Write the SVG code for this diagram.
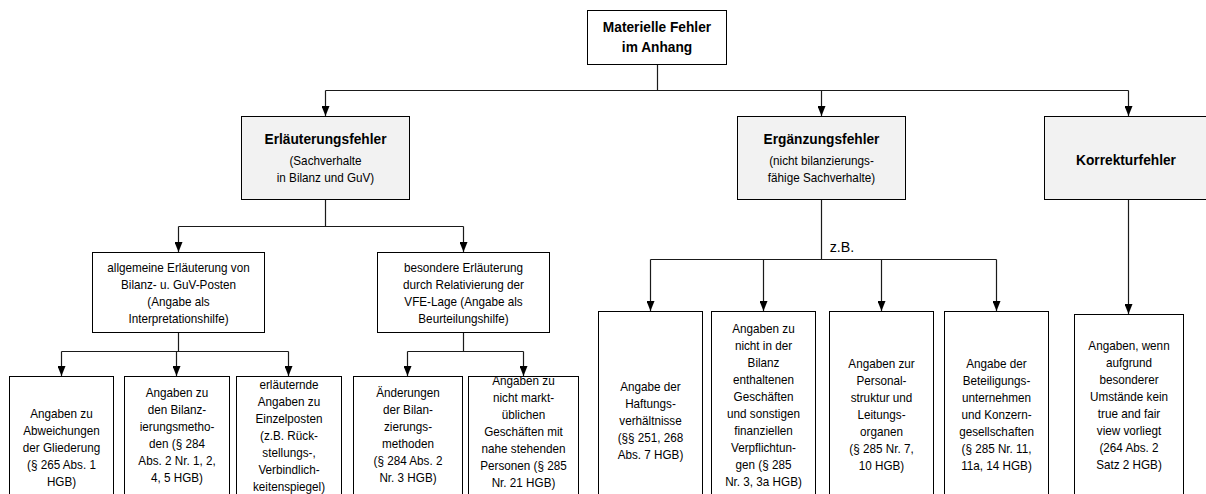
<svg xmlns="http://www.w3.org/2000/svg" width="1206" height="494" viewBox="0 0 1206 494">
  <style>
    .box { fill: #ffffff; stroke: #000000; stroke-width: 1; }
    .head { fill: #f2f2f2; stroke: #000000; stroke-width: 1; }
    .conn { fill: none; stroke: #1a1a1a; stroke-width: 1.2; }
    .arr { marker-end: url(#ah); }
    text { font-family: "Liberation Sans", Arial, sans-serif; fill: #000000; text-anchor: middle; }
    .b { font-size: 14px; font-weight: bold; }
    .r { font-size: 13px; }
    .s { font-size: 15px; }
  </style>
  <defs>
    <marker id="ah" markerWidth="10" markerHeight="8" refX="10" refY="4" orient="auto" markerUnits="userSpaceOnUse">
      <path d="M0,0 L10,4 L0,8 z" fill="#000000"/>
    </marker>
  </defs>

  <!-- connectors -->
  <g id="connectors">
    <path class="conn" d="M657.5,64.5 V90.5 M325.5,90.5 H1128.5"/>
    <path class="conn arr" d="M325.5,90.5 V116"/>
    <path class="conn arr" d="M821.5,90.5 V116"/>
    <path class="conn arr" d="M1128.5,90.5 V116"/>

    <path class="conn" d="M325.5,200 V226.5 M178.5,226.5 H463.5"/>
    <path class="conn arr" d="M178.5,226.5 V252"/>
    <path class="conn arr" d="M463.5,226.5 V252"/>

    <path class="conn" d="M178.5,332 V351.5 M61.5,351.5 H288.5"/>
    <path class="conn arr" d="M61.5,351.5 V376"/>
    <path class="conn arr" d="M176.5,351.5 V376"/>
    <path class="conn arr" d="M288.5,351.5 V376"/>

    <path class="conn" d="M463.5,332 V351.5 M407.5,351.5 H523.5"/>
    <path class="conn arr" d="M407.5,351.5 V376"/>
    <path class="conn arr" d="M523.5,351.5 V376"/>

    <path class="conn" d="M821.5,200 V259.5 M650.5,259.5 H996.5"/>
    <path class="conn arr" d="M650.5,259.5 V311"/>
    <path class="conn arr" d="M763.5,259.5 V311"/>
    <path class="conn arr" d="M881.5,259.5 V311"/>
    <path class="conn arr" d="M996.5,259.5 V311"/>
    <text class="s" transform="translate(842 0) scale(0.95 1)"><tspan x="0" y="252">z.B.</tspan></text>

    <path class="conn arr" d="M1128.5,200 V314"/>
  </g>

  <!-- root -->
  <g id="n-root">
    <rect class="box" x="587.5" y="10.5" width="139" height="54"/>
    <text class="b" transform="translate(657 0) scale(0.98 1)"><tspan x="0" y="32">Materielle Fehler</tspan><tspan x="0" y="52">im Anhang</tspan></text>
  </g>

  <!-- second level -->
  <g id="n-erlaeuterung">
    <rect class="head" x="241.5" y="116.5" width="168" height="83"/>
    <text class="b" transform="translate(325.5 0) scale(0.98 1)"><tspan x="0" y="144">Erläuterungsfehler</tspan></text>
    <text class="r" transform="translate(325.5 0) scale(0.9 1)"><tspan x="0" y="165">(Sachverhalte</tspan><tspan x="0" y="182">in Bilanz und GuV)</tspan></text>
  </g>
  <g id="n-ergaenzung">
    <rect class="head" x="737.5" y="116.5" width="168" height="83"/>
    <text class="b" transform="translate(821.5 0) scale(0.98 1)"><tspan x="0" y="144">Ergänzungsfehler</tspan></text>
    <text class="r" transform="translate(821.5 0) scale(0.9 1)"><tspan x="0" y="165">(nicht bilanzierungs-</tspan><tspan x="0" y="182">fähige Sachverhalte)</tspan></text>
  </g>
  <g id="n-korrektur">
    <rect class="head" x="1044.5" y="116.5" width="170" height="83"/>
    <text class="b" transform="translate(1126 0) scale(0.98 1)"><tspan x="0" y="165">Korrekturfehler</tspan></text>
  </g>

  <!-- third level -->
  <g id="n-allgemein">
    <rect class="box" x="92.5" y="252.5" width="172" height="80"/>
    <text class="r" transform="translate(178.5 0) scale(0.9 1)"><tspan x="0" y="272">allgemeine Erläuterung von</tspan><tspan x="0" y="289">Bilanz- u. GuV-Posten</tspan><tspan x="0" y="306">(Angabe als</tspan><tspan x="0" y="323">Interpretationshilfe)</tspan></text>
  </g>
  <g id="n-besonders">
    <rect class="box" x="377.5" y="252.5" width="172" height="80"/>
    <text class="r" transform="translate(463.5 0) scale(0.9 1)"><tspan x="0" y="272">besondere Erläuterung</tspan><tspan x="0" y="289">durch Relativierung der</tspan><tspan x="0" y="306">VFE-Lage (Angabe als</tspan><tspan x="0" y="323">Beurteilungshilfe)</tspan></text>
  </g>

  <!-- leaves under general explanation -->
  <g id="n-gliederung">
    <rect class="box" x="9.5" y="376.5" width="104" height="130"/>
    <text class="r" transform="translate(61.5 0) scale(0.9 1)"><tspan x="0" y="418">Angaben zu</tspan><tspan x="0" y="435">Abweichungen</tspan><tspan x="0" y="452">der Gliederung</tspan><tspan x="0" y="469">(§ 265 Abs. 1</tspan><tspan x="0" y="486">HGB)</tspan></text>
  </g>
  <g id="n-methoden">
    <rect class="box" x="124.5" y="376.5" width="105" height="130"/>
    <text class="r" transform="translate(177 0) scale(0.9 1)"><tspan x="0" y="397">Angaben zu</tspan><tspan x="0" y="414">den Bilanz-</tspan><tspan x="0" y="431">ierungsmetho-</tspan><tspan x="0" y="448">den (§ 284</tspan><tspan x="0" y="465">Abs. 2 Nr. 1, 2,</tspan><tspan x="0" y="482">4, 5 HGB)</tspan></text>
  </g>
  <g id="n-einzelposten">
    <rect class="box" x="236.5" y="376.5" width="105" height="130"/>
    <text class="r" transform="translate(289 0) scale(0.9 1)"><tspan x="0" y="389">erläuternde</tspan><tspan x="0" y="406">Angaben zu</tspan><tspan x="0" y="423">Einzelposten</tspan><tspan x="0" y="440">(z.B. Rück-</tspan><tspan x="0" y="457">stellungs-,</tspan><tspan x="0" y="474">Verbindlich-</tspan><tspan x="0" y="491">keitenspiegel)</tspan></text>
  </g>

  <!-- leaves under special explanation -->
  <g id="n-aenderungen">
    <rect class="box" x="353.5" y="376.5" width="109" height="130"/>
    <text class="r" transform="translate(408 0) scale(0.9 1)"><tspan x="0" y="397">Änderungen</tspan><tspan x="0" y="414">der Bilan-</tspan><tspan x="0" y="431">zierungs-</tspan><tspan x="0" y="448">methoden</tspan><tspan x="0" y="465">(§ 284 Abs. 2</tspan><tspan x="0" y="482">Nr. 3 HGB)</tspan></text>
  </g>
  <g id="n-nahestehende">
    <rect class="box" x="468.5" y="376.5" width="110" height="130"/>
    <text class="r" transform="translate(523.5 0) scale(0.9 1)"><tspan x="0" y="385">Angaben zu</tspan><tspan x="0" y="402">nicht markt-</tspan><tspan x="0" y="419">üblichen</tspan><tspan x="0" y="436">Geschäften mit</tspan><tspan x="0" y="453">nahe stehenden</tspan><tspan x="0" y="470">Personen (§ 285</tspan><tspan x="0" y="487">Nr. 21 HGB)</tspan></text>
  </g>

  <!-- leaves under supplementary errors -->
  <g id="n-haftung">
    <rect class="box" x="598.5" y="311.5" width="104" height="200"/>
    <text class="r" transform="translate(650.5 0) scale(0.9 1)"><tspan x="0" y="391">Angabe der</tspan><tspan x="0" y="408">Haftungs-</tspan><tspan x="0" y="425">verhältnisse</tspan><tspan x="0" y="442">(§§ 251, 268</tspan><tspan x="0" y="459">Abs. 7 HGB)</tspan></text>
  </g>
  <g id="n-geschaefte">
    <rect class="box" x="711.5" y="311.5" width="104" height="200"/>
    <text class="r" transform="translate(763.5 0) scale(0.9 1)"><tspan x="0" y="333">Angaben zu</tspan><tspan x="0" y="350">nicht in der</tspan><tspan x="0" y="367">Bilanz</tspan><tspan x="0" y="384">enthaltenen</tspan><tspan x="0" y="401">Geschäften</tspan><tspan x="0" y="418">und sonstigen</tspan><tspan x="0" y="435">finanziellen</tspan><tspan x="0" y="452">Verpflichtun-</tspan><tspan x="0" y="469">gen (§ 285</tspan><tspan x="0" y="486">Nr. 3, 3a HGB)</tspan></text>
  </g>
  <g id="n-personal">
    <rect class="box" x="829.5" y="311.5" width="104" height="200"/>
    <text class="r" transform="translate(881.5 0) scale(0.9 1)"><tspan x="0" y="368">Angaben zur</tspan><tspan x="0" y="385">Personal-</tspan><tspan x="0" y="402">struktur und</tspan><tspan x="0" y="419">Leitungs-</tspan><tspan x="0" y="436">organen</tspan><tspan x="0" y="453">(§ 285 Nr. 7,</tspan><tspan x="0" y="470">10 HGB)</tspan></text>
  </g>
  <g id="n-beteiligung">
    <rect class="box" x="944.5" y="311.5" width="104" height="200"/>
    <text class="r" transform="translate(996.5 0) scale(0.9 1)"><tspan x="0" y="368">Angabe der</tspan><tspan x="0" y="385">Beteiligungs-</tspan><tspan x="0" y="402">unternehmen</tspan><tspan x="0" y="419">und Konzern-</tspan><tspan x="0" y="436">gesellschaften</tspan><tspan x="0" y="453">(§ 285 Nr. 11,</tspan><tspan x="0" y="470">11a, 14 HGB)</tspan></text>
  </g>

  <!-- leaf under correction errors -->
  <g id="n-truefair">
    <rect class="box" x="1074.5" y="314.5" width="109" height="200"/>
    <text class="r" transform="translate(1129 0) scale(0.9 1)"><tspan x="0" y="350">Angaben, wenn</tspan><tspan x="0" y="367">aufgrund</tspan><tspan x="0" y="384">besonderer</tspan><tspan x="0" y="401">Umstände kein</tspan><tspan x="0" y="418">true and fair</tspan><tspan x="0" y="435">view vorliegt</tspan><tspan x="0" y="452">(264 Abs. 2</tspan><tspan x="0" y="469">Satz 2 HGB)</tspan></text>
  </g>
</svg>
